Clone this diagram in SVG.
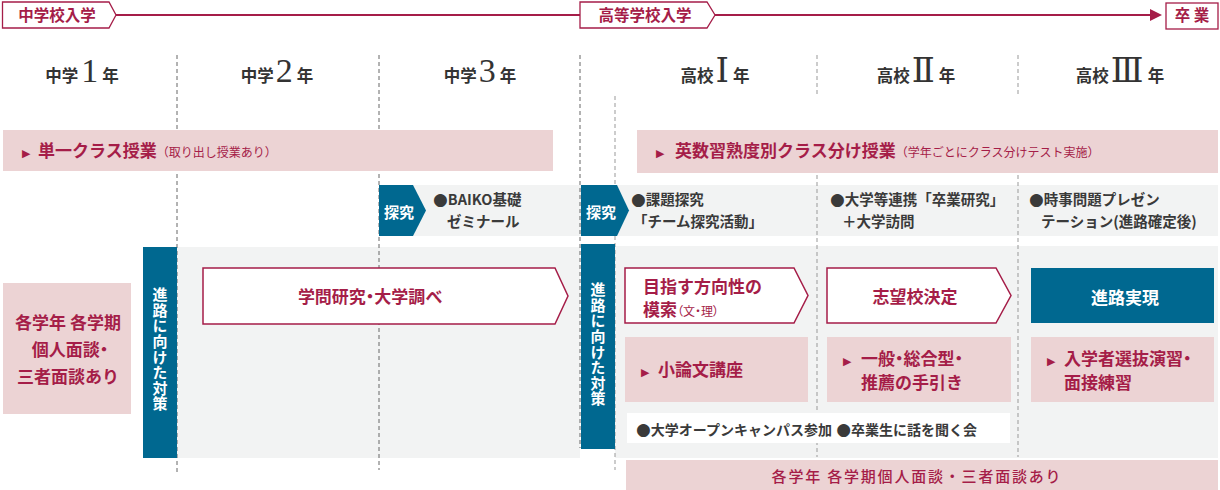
<svg xmlns="http://www.w3.org/2000/svg" width="1220" height="490" viewBox="0 0 1220 490">
<style>
text{font-family:"Noto Sans CJK JP","Noto Sans",sans-serif}
.tag{fill:#fff;stroke:#a51d48;stroke-width:1.3}
.tagt{font-size:15.5px;font-weight:700;fill:#a51d48}
.yr{font-size:16.5px;font-weight:700;fill:#333}
.num{font-family:"Liberation Serif","DejaVu Serif",serif;font-size:34px;font-weight:400}
.dash{stroke:#666;stroke-width:1;stroke-dasharray:4 3;fill:none}
.dashl{stroke:#999;stroke-width:1;stroke-dasharray:4 3;fill:none}
.pink{fill:#ecd3d4}
.gray{fill:#f2f3f3}
.blue{fill:#006890}
.arrowbox{fill:#fff;stroke:#a51d48;stroke-width:1.5}
.big{font-size:17px;font-weight:700;fill:#a51d48}
.palt{font-feature-settings:"palt"}
.sm{font-size:12px;font-weight:400}
.tri{font-family:"DejaVu Sans",sans-serif;font-size:11px;fill:#a51d48}
.bul{font-family:"DejaVu Sans",sans-serif;font-size:17px}
.t2{font-size:14.5px;font-weight:700;fill:#3a3a3a}
.wt{font-size:15px;font-weight:700;fill:#fff}
.vt{font-size:15px;font-weight:700;fill:#fff;writing-mode:vertical-rl;letter-spacing:0.6px}
</style>

<g id="timeline">
  <line x1="116" y1="15" x2="580" y2="15" stroke="#a51d48" stroke-width="2"/>
  <line x1="715" y1="15" x2="1152" y2="15" stroke="#a51d48" stroke-width="2"/>
  <polygon points="1150,9 1162,15 1150,21" fill="#a51d48"/>
</g>
<g id="tag-jhs">
  <polygon class="tag" points="2.5,2 109,2 116,15 109,28 2.5,28"/>
  <text class="tagt" x="57" y="21" text-anchor="middle">中学校入学</text>
</g>
<g id="tag-hs">
  <polygon class="tag" points="580,2 707,2 715,15 707,28 580,28"/>
  <text class="tagt" x="645" y="21" text-anchor="middle">高等学校入学</text>
</g>
<g id="tag-grad">
  <rect class="tag" x="1166" y="3" width="52" height="26"/>
  <text class="tagt" x="1192" y="21" text-anchor="middle">卒 業</text>
</g>

<g id="headers">
  <text class="yr" x="82" y="82" text-anchor="middle">中学<tspan class="num" dx="3">1</tspan><tspan dx="4">年</tspan></text>
  <text class="yr" x="277" y="82" text-anchor="middle">中学<tspan class="num" dx="2">2</tspan><tspan dx="4">年</tspan></text>
  <text class="yr" x="480" y="82" text-anchor="middle">中学<tspan class="num" dx="2">3</tspan><tspan dx="4">年</tspan></text>
  <text class="yr" x="715" y="82" text-anchor="middle">高校<tspan class="num" dx="2">Ⅰ</tspan><tspan dx="4">年</tspan></text>
  <text class="yr" x="916" y="82" text-anchor="middle">高校<tspan class="num" dx="2">Ⅱ</tspan><tspan dx="4">年</tspan></text>
  <text class="yr" x="1120" y="82" text-anchor="middle">高校<tspan class="num" dx="2">Ⅲ</tspan><tspan dx="4">年</tspan></text>
</g>

<g id="backgrounds">
  <rect class="gray" x="379" y="185" width="839" height="51"/>
  <rect class="gray" x="177" y="247" width="403" height="211"/>
  <rect class="gray" x="615" y="246" width="603" height="212"/>
</g>

<g id="dividers">
  <line class="dash" x1="177" y1="55" x2="177" y2="472"/>
  <line class="dash" x1="379" y1="55" x2="379" y2="470"/>
  <line class="dash" x1="580" y1="55" x2="580" y2="448" stroke="#444"/>
  <line class="dashl" x1="615" y1="96" x2="615" y2="470" stroke="#ccc"/>
  <line class="dashl" x1="817" y1="55" x2="817" y2="96"/>
  <line class="dashl" x1="817" y1="175" x2="817" y2="457"/>
  <line class="dashl" x1="1018" y1="55" x2="1018" y2="96"/>
  <line class="dashl" x1="1018" y1="175" x2="1018" y2="457"/>
</g>

<g id="band-single">
  <rect class="pink" x="3" y="130" width="550" height="41"/>
  <text class="big" x="22" y="157"><tspan class="tri">▶</tspan><tspan x="38">単一クラス授業</tspan><tspan class="sm">（取り出し授業あり）</tspan></text>
</g>
<g id="band-level">
  <rect class="pink" x="637" y="130" width="581" height="43"/>
  <text class="big" x="656" y="157"><tspan class="tri">▶</tspan><tspan x="675">英数習熟度別クラス分け授業</tspan><tspan class="sm">（学年ごとにクラス分けテスト実施）</tspan></text>
</g>

<g id="tankyu-1">
  <polygon class="blue" points="379,185 413,185 426,210.5 413,236 379,236"/>
  <text class="wt" x="399" y="218" text-anchor="middle">探究</text>
  <text class="t2" x="433" y="205"><tspan class="bul">●</tspan><tspan dx="0">BAIKO基礎</tspan></text>
  <text class="t2" x="447" y="227">ゼミナール</text>
</g>
<g id="tankyu-2">
  <polygon class="blue" points="581,185 617,185 629,210.5 617,236 581,236"/>
  <text class="wt" x="601" y="218" text-anchor="middle">探究</text>
  <text class="t2" x="631" y="205"><tspan class="bul">●</tspan><tspan dx="0">課題探究</tspan></text>
  <text class="t2" x="633" y="227">「チーム探究活動」</text>
</g>
<g id="tankyu-3">
  <text class="t2" x="830" y="205"><tspan class="bul">●</tspan><tspan dx="0">大学等連携「卒業研究」</tspan></text>
  <text class="t2" x="842" y="227">＋大学訪問</text>
</g>
<g id="tankyu-4">
  <text class="t2" x="1029" y="205"><tspan class="bul">●</tspan><tspan dx="0">時事問題プレゼン</tspan></text>
  <text class="t2" x="1041" y="227">テーション(進路確定後)</text>
</g>

<g id="interview-left">
  <rect class="pink" x="3" y="283" width="128" height="131"/>
  <text class="big" x="68" y="329" text-anchor="middle">各学年 各学期</text>
  <text class="big palt" x="70" y="356" text-anchor="middle">個人面談・</text>
  <text class="big" x="68" y="383" text-anchor="middle">三者面談あり</text>
</g>

<g id="measures-1">
  <rect class="blue" x="143" y="247" width="34" height="211"/>
  <text class="vt" x="160" y="287">進路に向けた対策</text>
</g>
<g id="measures-2">
  <rect class="blue" x="581" y="244" width="34" height="205"/>
  <text class="vt" x="598" y="282">進路に向けた対策</text>
</g>

<g id="research">
  <polygon class="arrowbox" points="203,268 555,268 568,296 555,324 203,324"/>
  <text class="big palt" x="370" y="303" text-anchor="middle">学問研究・大学調べ</text>
</g>
<g id="direction">
  <polygon class="arrowbox" points="625,268 794,268 808,295.5 794,323 625,323"/>
  <text class="big" x="643" y="293">目指す方向性の</text>
  <text class="big" x="643" y="316">模索<tspan class="sm palt">（文・理）</tspan></text>
</g>
<g id="decide">
  <polygon class="arrowbox" points="827,268 996,268 1011,295.5 996,323 827,323"/>
  <text class="big" x="915" y="303" text-anchor="middle">志望校決定</text>
</g>
<g id="realize">
  <rect class="blue" x="1031" y="268" width="183" height="55"/>
  <text class="wt" style="font-size:17px" x="1125" y="304" text-anchor="middle">進路実現</text>
</g>

<g id="essay">
  <rect class="pink" x="625" y="337" width="183" height="65"/>
  <text class="big" x="641" y="376"><tspan class="tri">▶</tspan><tspan x="658">小論文講座</tspan></text>
</g>
<g id="guide">
  <rect class="pink" x="827" y="337" width="184" height="65"/>
  <text class="big" x="843" y="365"><tspan class="tri">▶</tspan><tspan class="palt" x="861">一般・総合型・</tspan></text>
  <text class="big" x="861" y="389">推薦の手引き</text>
</g>
<g id="exam">
  <rect class="pink" x="1031" y="337" width="183" height="65"/>
  <text class="big" x="1047" y="365"><tspan class="tri">▶</tspan><tspan class="palt" x="1064">入学者選抜演習・</tspan></text>
  <text class="big" x="1064" y="389">面接練習</text>
</g>
<g id="events">
  <rect x="627" y="413" width="383" height="30" fill="#fff"/>
  <text class="t2" style="font-size:14px" x="636" y="435"><tspan class="bul">●</tspan>大学オープンキャンパス参加 <tspan class="bul" dx="1">●</tspan>卒業生に話を聞く会</text>
</g>

<g id="interview-bottom">
  <rect class="pink" x="626" y="460" width="592" height="30"/>
  <text x="917" y="482" text-anchor="middle" font-size="15" font-weight="500" fill="#a51d48" letter-spacing="1.8">各学年 各学期個人面談・三者面談あり</text>
</g>
</svg>
